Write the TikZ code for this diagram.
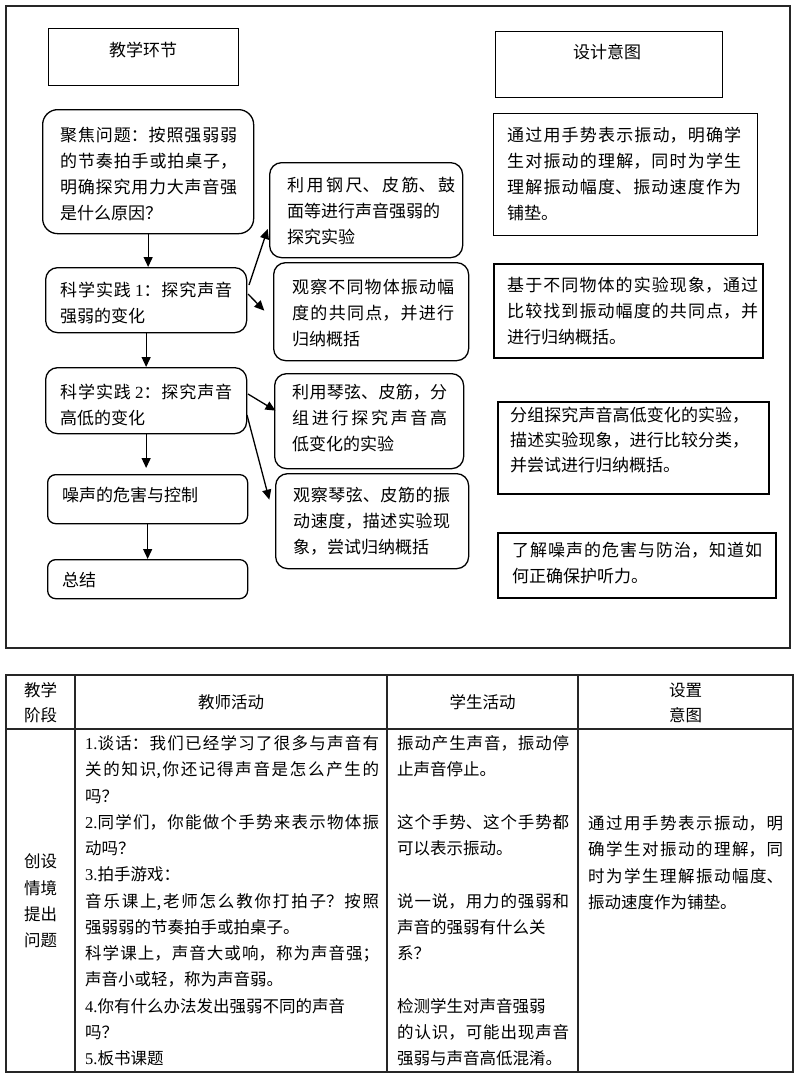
\documentclass[tikz,border=0pt]{standalone}
\usepackage{fontspec}
\setmainfont{Noto Sans CJK SC}
\newfontfamily\lat{Liberation Serif}
\usetikzlibrary{arrows.meta,calc}
\XeTeXlinebreaklocale "zh"
\XeTeXlinebreakskip=0pt plus 5pt\relax
\newcommand\zskip{\XeTeXlinebreakskip=0pt\relax}
\tikzset{
  box/.style={draw, line width=1.3pt, inner sep=0pt, anchor=north west},
  rbox/.style={box, rounded corners=12pt},
  txt/.style={inner sep=0pt, anchor=base west, align=justify, font=\fontsize{17}{26}\selectfont},
  ctxt/.style={inner sep=0pt, anchor=base, font=\fontsize{17}{26}\selectfont},
  ttxt/.style={inner sep=0pt, anchor=base west, align=justify, font=\fontsize{16.5}{26.25}\selectfont},
  tctxt/.style={inner sep=0pt, anchor=base, font=\fontsize{16.5}{26.25}\selectfont},
  tcol/.style={inner sep=0pt, anchor=base west, align=center, font=\fontsize{16.5}{#1}\selectfont},
  arr/.style={-{Triangle[length=10pt,width=9pt]}, line width=1.3pt},
  tline/.style={line width=1.2pt, draw=black!85},
}
\begin{document}
\begin{tikzpicture}[x=1pt,y=-1pt]
\useasboundingbox (0,0) rectangle (800,1082);
% outer frame
\draw[line width=1.2pt, draw=black!85] (6,6) rectangle (790,648);

% header boxes
\node[box, minimum width=190pt, minimum height=57pt] (hd1) at (48,28) {};
\node[ctxt] (hd1t) at (143,56.4) {教学环节};
\node[box, minimum width=227pt, minimum height=66pt] (hd2) at (495,31) {};
\node[ctxt] (hd2t) at (607,58.4) {设计意图};

% left flow
\node[rbox, rounded corners=15pt, minimum width=211pt, minimum height=124pt] (q) at (42,109) {};
\node[txt, text width=177pt] (qt) at (60,141.4) {聚焦问题：按照强弱弱\linebreak 的节奏拍手或拍桌子，\linebreak 明确探究用力大声音强\linebreak 是什么原因？};

\node[rbox, minimum width=201pt, minimum height=65pt] (p1) at (45,267) {};
\node[txt, text width=172pt] (p1t) at (60,296.4) {科学实践 {\lat 1}：探究声音\linebreak 强弱的变化};

\node[rbox, minimum width=193pt, minimum height=95pt] (a1) at (269,162) {};
\node[txt, text width=168pt] (a1t) at (287,191) {利用钢尺、皮筋、鼓\linebreak 面等进行声音强弱的\\ 探究实验};

\node[rbox, minimum width=195pt, minimum height=98pt] (a2) at (273,262) {};
\node[txt, text width=162pt] (a2t) at (292,293) {观察不同物体振动幅\linebreak 度的共同点，并进行\linebreak 归纳概括};

\node[rbox, minimum width=201pt, minimum height=66pt] (p2) at (45,367) {};
\node[txt, text width=172pt] (p2t) at (60,398) {科学实践 {\lat 2}：探究声音\linebreak 高低的变化};

\node[rbox, minimum width=189pt, minimum height=95pt] (b1) at (274,373) {};
\node[txt, text width=155pt] (b1t) at (292,398) {利用琴弦、皮筋，分\linebreak 组进行探究声音高\linebreak 低变化的实验};

\node[rbox, minimum width=193pt, minimum height=95pt] (b2) at (275,473) {};
\node[txt, text width=157pt] (b2t) at (293,501.5) {观察琴弦、皮筋的振\linebreak 动速度，描述实验现\linebreak 象，尝试归纳概括};

\node[rbox, rounded corners=8pt, minimum width=200pt, minimum height=49pt] (n) at (47,474) {};
\node[txt] (nt) at (62,501.4) {噪声的危害与控制};

\node[rbox, rounded corners=8pt, minimum width=200pt, minimum height=39pt] (s) at (47,559) {};
\node[txt] (st) at (62,586.4) {总结};

% right boxes
\node[box, line width=1.1pt, minimum width=264pt, minimum height=122pt] (r1) at (493,113) {};
\node[txt, text width=234pt] (r1t) at (507,141.4) {通过用手势表示振动，明确学\linebreak 生对振动的理解，同时为学生\linebreak 理解振动幅度、振动速度作为\linebreak 铺垫。};

\node[box, line width=1.8pt, minimum width=269pt, minimum height=94pt] (r2) at (493,263) {};
\node[txt, text width=251pt] (r2t) at (507,291.4) {基于不同物体的实验现象，通过\linebreak 比较找到振动幅度的共同点，并\linebreak 进行归纳概括。};

\node[box, line width=1.6pt, minimum width=271pt, minimum height=92pt] (r3) at (497,401) {};
\node[txt, text width=239pt, font=\fontsize{17}{25}\selectfont] (r3t) at (510,421.4) {分组探究声音高低变化的实验，\linebreak 描述实验现象，进行比较分类，\linebreak 并尝试进行归纳概括。};

\node[box, line width=1.6pt, minimum width=278pt, minimum height=65pt] (r4) at (497,532) {};
\node[txt, text width=250pt] (r4t) at (512,556.4) {了解噪声的危害与防治，知道如\linebreak 何正确保护听力。};

% connectors
\draw[arr] (q.south) -- (q.south |- p1.north);
\draw[arr] (p1.south) -- (p1.south |- p2.north);
\draw[arr, shorten >=6pt] (p2.south) -- (p2.south |- n.north);
\draw[arr] (n.south) -- (n.south |- s.north);
\draw[arr] ($(p1.north east)+(1.7,18)$) -- ($(a1.west)+(-1.3,18.8)$);
\draw[arr] ($(p1.north east)+(0.7,27)$) -- ($(a2.west)+(-8.7,-1)$);
\draw[arr] ($(p2.north east)+(0.7,27)$) -- ($(b1.west)+(1.5,-10.5)$);
\draw[arr] ($(p2.north east)+(-0.3,48)$) -- ($(b2.west)+(-5.7,-21.5)$);

% table
\draw[tline] (6,675) rectangle (793,1072);
\draw[tline] (6,729) -- (793,729);
\draw[tline] (75,675) -- (75,1072);
\draw[tline] (387,675) -- (387,1072);
\draw[tline] (578,675) -- (578,1072);

\node[tcol=25pt, text width=69pt] (th1) at (6,696.2) {\zskip 教学\\阶段};
\node[tctxt] (th2) at (231,708.9) {教师活动};
\node[tctxt] (th3) at (482.5,708.9) {学生活动};
\node[tcol=25pt, text width=215pt] (th4) at (578,696.2) {\zskip 设置\\意图};

\node[tcol=26.2pt, text width=69pt] (c1) at (6,867.9) {\zskip 创设\\情境\\提出\\问题};

\node[ttxt, text width=294pt] (c2) at (85,749.5) {{\lat 1.}谈话：我们已经学习了很多与声音有\linebreak 关的知识,你还记得声音是怎么产生的\linebreak 吗？\par
{\lat 2.}同学们，你能做个手势来表示物体振\linebreak 动吗？\par
{\lat 3.}拍手游戏：\par
音乐课上,老师怎么教你打拍子？按照\linebreak 强弱弱的节奏拍手或拍桌子。\par
科学课上，声音大或响，称为声音强；\linebreak 声音小或轻，称为声音弱。\par
{\lat 4.}你有什么办法发出强弱不同的声音\\ 吗？\par
{\lat 5.}板书课题};

\node[ttxt, text width=172pt] (c3) at (397,749.5) {振动产生声音，振动停\linebreak 止声音停止。\par\vspace{26.25pt}
这个手势、这个手势都\linebreak 可以表示振动。\par\vspace{26.25pt}
说一说，用力的强弱和\linebreak 声音的强弱有什么关\\ 系？\par\vspace{26.25pt}
检测学生对声音强弱\\ 的认识，可能出现声音\linebreak 强弱与声音高低混淆。};

\node[ttxt, text width=195pt] (c4) at (588,829.5) {通过用手势表示振动，明\linebreak 确学生对振动的理解，同\linebreak 时为学生理解振动幅度、\linebreak 振动速度作为铺垫。};
\end{tikzpicture}
\end{document}
